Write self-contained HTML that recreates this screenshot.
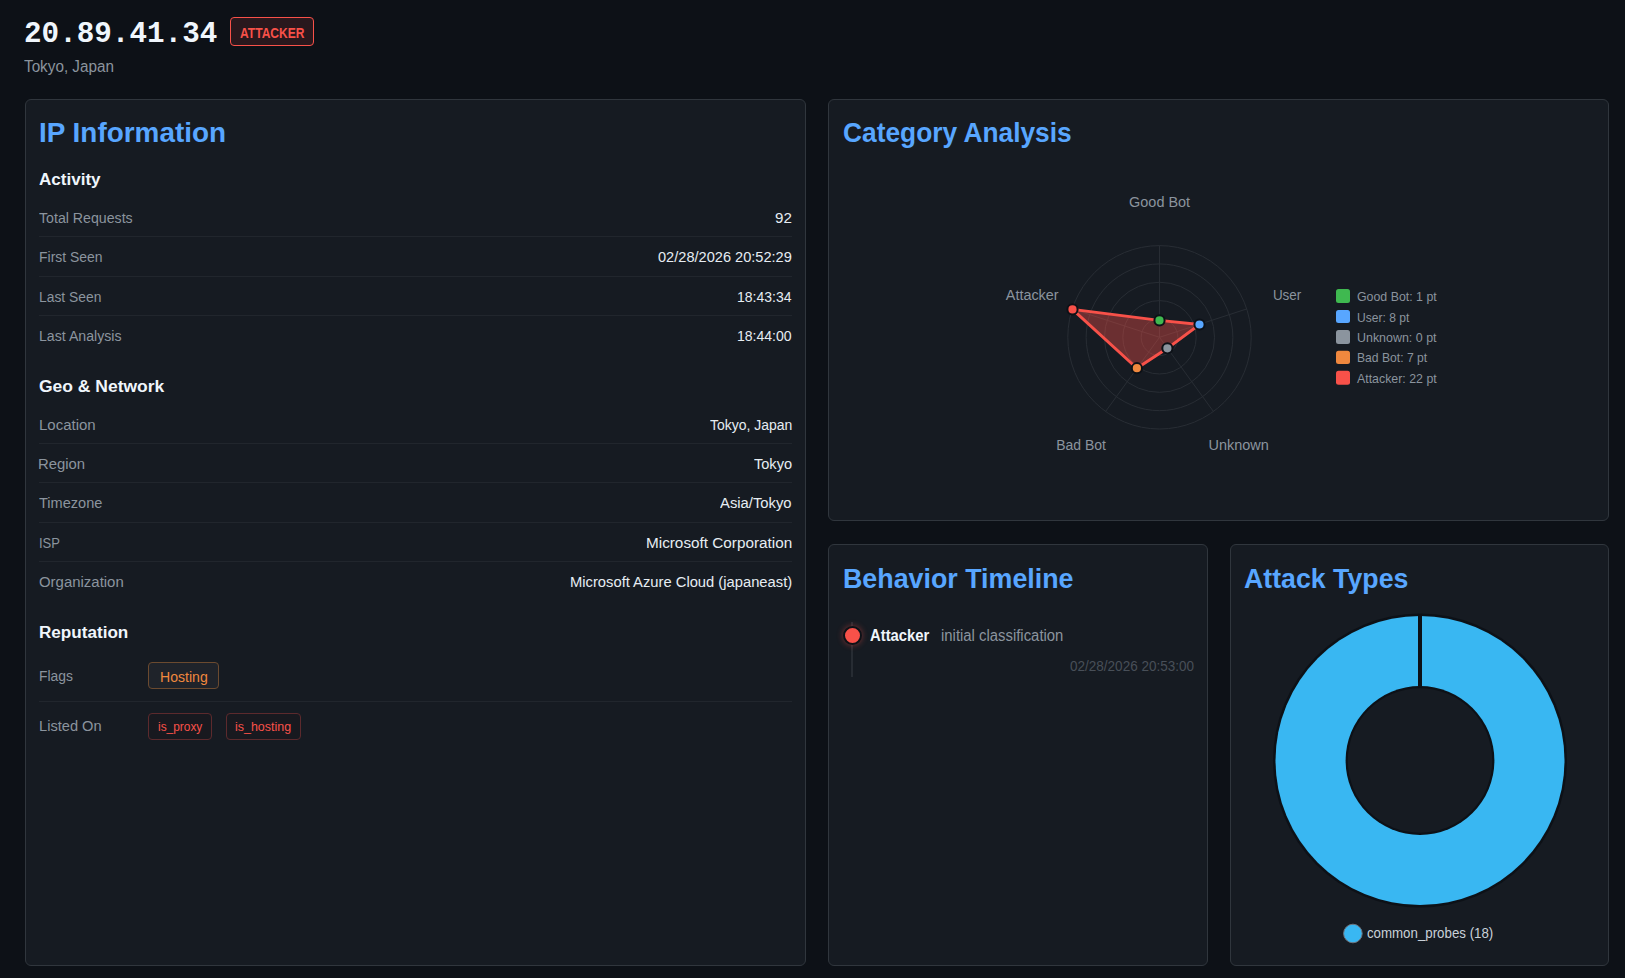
<!DOCTYPE html>
<html lang="en">
<head>
<meta charset="utf-8">
<title>IP Detail - 20.89.41.34</title>
<style>
*{box-sizing:border-box;margin:0;padding:0}
html,body{width:1625px;height:978px;overflow:hidden;background:#0d1117}
body{font-family:"Liberation Sans",sans-serif;color:#e6edf3;position:relative}
.t{position:absolute;white-space:nowrap;line-height:24px;display:block;transform-origin:0 0}
.ip{font:700 29px/36px "Liberation Mono",monospace;color:#f0f6fc}
.bt{font-weight:700;font-size:14.3px;color:#f85149}
.sub{font-size:15.8px;color:#8b949e}
h2.t{font-size:27.2px;line-height:34px;font-weight:700;color:#58a6ff}
h3.t{font-size:16.8px;font-weight:700;color:#f0f6fc}
.l{font-size:15.3px;color:#8b949e}
.v{font-size:15.3px;color:#e6edf3}
.to{font-size:14.4px;color:#f0883e}
.tr{font-size:12.4px;color:#f85149}
.tn{font-size:15.8px;font-weight:700;color:#f0f6fc}
.td{font-size:15.6px;color:#8b949e}
.tt{font-size:14px;color:#484f58}
.badge{position:absolute;left:230px;top:17px;width:84px;height:29px;border:1px solid #f85149;border-radius:4px;background:rgba(248,81,73,.12)}
.card{position:absolute;background:#161b22;border:1px solid #30363d;border-radius:6px}
#c1{left:25px;top:99px;width:781px;height:867px}
#c2{left:828px;top:99px;width:781px;height:422px}
#c3{left:828px;top:544px;width:380px;height:422px}
#c4{left:1230px;top:544px;width:379px;height:422px}
.sep{position:absolute;left:13px;width:753px;height:1px;background:#21262d}
.tag{position:absolute;height:27px;border-radius:4px}
.tag.o{border:1px solid #6b4a2f;background:#1f232a}
.tag.r{border:1px solid #5c2a2d;background:#18191f}
.tline{position:absolute;left:22px;top:77px;width:2px;height:55px;background:#272c33}
.tdot{position:absolute;left:14px;top:81px;width:19px;height:19px;border-radius:50%;background:#f85149;border:2px solid #0d1117;box-shadow:0 0 6px rgba(248,81,73,.45)}
svg{position:absolute;left:0;top:0}
svg text{font-family:"Liberation Sans",sans-serif}
</style>
</head>
<body>
<header>
<span id="ip" class="t ip" style="left:23.87px;top:17.01px;transform:scaleX(1.0097)">20.89.41.34</span>
<div class="badge"><span id="bdg" class="t bt" style="left:8.82px;top:3.01px;transform:scaleX(0.8436)">ATTACKER</span></div>
<span id="sub" class="t sub" style="left:24.35px;top:55.00px;transform:scaleX(0.9665)">Tokyo, Japan</span>
</header>
<section class="card" id="c1">
<h2 id="h_ip" class="t" style="left:12.95px;top:16.00px;transform:scaleX(1.0265)">IP Information</h2>
<h3 id="s_act" class="t" style="left:13.11px;top:68.00px;transform:scaleX(1.0163)">Activity</h3>
<span id="l1" class="t l" style="left:13.33px;top:106.00px;transform:scaleX(0.9254)">Total Requests</span><span id="v1" class="t v" style="left:749.39px;top:106.01px;transform:scaleX(0.9899)">92</span>
<div class="sep" style="top:136px"></div>
<span id="l2" class="t l" style="left:12.53px;top:145.00px;transform:scaleX(0.9124)">First Seen</span><span id="v2" class="t v" style="left:631.99px;top:145.01px;transform:scaleX(0.9535)">02/28/2026 20:52:29</span>
<div class="sep" style="top:176px"></div>
<span id="l3" class="t l" style="left:12.52px;top:185.00px;transform:scaleX(0.9047)">Last Seen</span><span id="v3" class="t v" style="left:711.47px;top:185.01px;transform:scaleX(0.9142)">18:43:34</span>
<div class="sep" style="top:215px"></div>
<span id="l4" class="t l" style="left:12.56px;top:224.00px;transform:scaleX(0.9248)">Last Analysis</span><span id="v4" class="t v" style="left:711.05px;top:224.00px;transform:scaleX(0.9175)">18:44:00</span>
<h3 id="s_geo" class="t" style="left:12.72px;top:275.00px;transform:scaleX(1.0418)">Geo &amp; Network</h3>
<span id="l5" class="t l" style="left:12.53px;top:313.00px;transform:scaleX(0.9804)">Location</span><span id="v5" class="t v" style="left:683.51px;top:313.01px;transform:scaleX(0.9141)">Tokyo, Japan</span>
<div class="sep" style="top:343px"></div>
<span id="l6" class="t l" style="left:12.30px;top:352.00px;transform:scaleX(0.9716)">Region</span><span id="v6" class="t v" style="left:727.60px;top:352.00px;transform:scaleX(0.9516)">Tokyo</span>
<div class="sep" style="top:382px"></div>
<span id="l7" class="t l" style="left:13.36px;top:391.00px;transform:scaleX(0.9523)">Timezone</span><span id="v7" class="t v" style="left:694.34px;top:391.00px;transform:scaleX(0.9681)">Asia/Tokyo</span>
<div class="sep" style="top:422px"></div>
<span id="l8" class="t l" style="left:12.65px;top:431.00px;transform:scaleX(0.8514)">ISP</span><span id="v8" class="t v" style="left:620.22px;top:431.01px;transform:scaleX(0.9997)">Microsoft Corporation</span>
<div class="sep" style="top:461px"></div>
<span id="l9" class="t l" style="left:13.19px;top:470.00px;transform:scaleX(0.9770)">Organization</span><span id="v9" class="t v" style="left:544.12px;top:470.00px;transform:scaleX(0.9642)">Microsoft Azure Cloud (japaneast)</span>
<h3 id="s_rep" class="t" style="left:12.60px;top:520.90px;transform:scaleX(1.0192)">Reputation</h3>
<span id="l10" class="t l" style="left:12.85px;top:564.00px;transform:scaleX(0.9079)">Flags</span>
<div class="tag o" style="left:122px;top:562px;width:71px"><span id="t1" class="t to" style="left:11.28px;top:2.00px;transform:scaleX(0.9777)">Hosting</span></div>
<div class="sep" style="top:601px"></div>
<span id="l11" class="t l" style="left:12.57px;top:614.00px;transform:scaleX(0.9567)">Listed On</span>
<div class="tag r" style="left:122px;top:613px;width:64px"><span id="t2" class="t tr" style="left:8.74px;top:1.00px;transform:scaleX(0.9602)">is_proxy</span></div>
<div class="tag r" style="left:200px;top:613px;width:75px"><span id="t3" class="t tr" style="left:8.15px;top:1.01px;transform:scaleX(1.0052)">is_hosting</span></div>
</section>
<section class="card" id="c2">
<h2 id="h_cat" class="t" style="left:14.12px;top:16.01px;transform:scaleX(0.9682)">Category Analysis</h2>
<svg width="779" height="420" viewBox="829 100 779 420">
<g fill="none" stroke="#282d34" stroke-width="1">
<circle cx="1159.5" cy="337.3" r="18.34"/>
<circle cx="1159.5" cy="337.3" r="36.68"/>
<circle cx="1159.5" cy="337.3" r="55.02"/>
<circle cx="1159.5" cy="337.3" r="73.36"/>
<circle cx="1159.5" cy="337.3" r="91.70"/>
<line x1="1159.5" y1="337.3" x2="1159.50" y2="245.60"/>
<line x1="1159.5" y1="337.3" x2="1246.71" y2="308.96"/>
<line x1="1159.5" y1="337.3" x2="1213.40" y2="411.49"/>
<line x1="1159.5" y1="337.3" x2="1105.60" y2="411.49"/>
<line x1="1159.5" y1="337.3" x2="1072.29" y2="308.96"/>
</g>
<polygon points="1159.5,320.4 1199.5,324.5 1167.4,348.3 1136.9,368.2 1072.5,309.4" fill="rgba(248,81,73,0.38)" stroke="#f85149" stroke-width="2.9" stroke-linejoin="round"/>
<circle cx="1159.5" cy="320.4" r="5.1" fill="#3fb950" stroke="#0d1117" stroke-width="2"/>
<circle cx="1199.5" cy="324.5" r="5.1" fill="#58a6ff" stroke="#0d1117" stroke-width="2"/>
<circle cx="1167.4" cy="348.3" r="5.1" fill="#8b949e" stroke="#0d1117" stroke-width="2"/>
<circle cx="1136.9" cy="368.2" r="5.1" fill="#f0883e" stroke="#0d1117" stroke-width="2"/>
<circle cx="1072.5" cy="309.4" r="5.1" fill="#f85149" stroke="#0d1117" stroke-width="2"/>
<text x="1129.1" y="207" font-size="15.2" fill="#8b949e" textLength="61" lengthAdjust="spacingAndGlyphs">Good Bot</text>
<text x="1272.9" y="300.1" font-size="15.2" fill="#8b949e" textLength="28.4" lengthAdjust="spacingAndGlyphs">User</text>
<text x="1005.8" y="300.1" font-size="15.2" fill="#8b949e" textLength="52.8" lengthAdjust="spacingAndGlyphs">Attacker</text>
<text x="1056.2" y="450" font-size="15.2" fill="#8b949e" textLength="49.7" lengthAdjust="spacingAndGlyphs">Bad Bot</text>
<text x="1208.5" y="450" font-size="15.2" fill="#8b949e" textLength="60.3" lengthAdjust="spacingAndGlyphs">Unknown</text>
<rect x="1336" y="289" width="14" height="14" rx="2.5" fill="#3fb950"/>
<text x="1357" y="301.2" font-size="12.7" fill="#8b949e" textLength="79.7" lengthAdjust="spacingAndGlyphs">Good Bot: 1 pt</text>
<rect x="1336" y="310" width="14" height="13" rx="2.5" fill="#58a6ff"/>
<text x="1357" y="321.7" font-size="12.7" fill="#8b949e" textLength="52.3" lengthAdjust="spacingAndGlyphs">User: 8 pt</text>
<rect x="1336" y="330" width="14" height="14" rx="2.5" fill="#8b949e"/>
<text x="1357" y="341.7" font-size="12.7" fill="#8b949e" textLength="79.5" lengthAdjust="spacingAndGlyphs">Unknown: 0 pt</text>
<rect x="1336" y="350.7" width="14" height="13.3" rx="2.5" fill="#f0883e"/>
<text x="1357" y="362.3" font-size="12.7" fill="#8b949e" textLength="70.2" lengthAdjust="spacingAndGlyphs">Bad Bot: 7 pt</text>
<rect x="1336" y="370.8" width="14" height="14" rx="2.5" fill="#f85149"/>
<text x="1357" y="382.8" font-size="12.7" fill="#8b949e" textLength="79.7" lengthAdjust="spacingAndGlyphs">Attacker: 22 pt</text>
</svg>
</section>
<section class="card" id="c3">
<h2 id="h_beh" class="t" style="left:13.95px;top:17.00px;transform:scaleX(0.9863)">Behavior Timeline</h2>
<div class="tline"></div><div class="tdot"></div>
<span id="tl1" class="t tn" style="left:40.96px;top:79.00px;transform:scaleX(0.9388)">Attacker</span><span id="tl2" class="t td" style="left:111.66px;top:79.01px;transform:scaleX(0.9541)">initial classification</span>
<span id="tl3" class="t tt" style="left:241.03px;top:108.50px;transform:scaleX(0.9658)">02/28/2026 20:53:00</span>
</section>
<section class="card" id="c4">
<h2 id="h_att" class="t" style="left:12.80px;top:17.00px;transform:scaleX(0.9829)">Attack Types</h2>
<svg width="377" height="420" viewBox="1231 545 377 420">
<circle cx="1420" cy="760.5" r="147" fill="#0d1117"/>
<circle cx="1420" cy="760.5" r="144.5" fill="#39b7f2"/>
<circle cx="1420" cy="760.5" r="74.4" fill="#0d1117"/>
<circle cx="1420" cy="760.5" r="72.2" fill="#161b22"/>
<rect x="1418" y="614.5" width="4" height="73" fill="#0d1117"/>
<circle cx="1352.9" cy="933.5" r="9.3" fill="#39b7f2" stroke="#6e7681" stroke-width="1"/>
<text x="1366.9" y="937.7" font-size="13.8" fill="#c9d1d9" textLength="126.4" lengthAdjust="spacingAndGlyphs">common_probes (18)</text>
</svg>
</section>
</body>
</html>
